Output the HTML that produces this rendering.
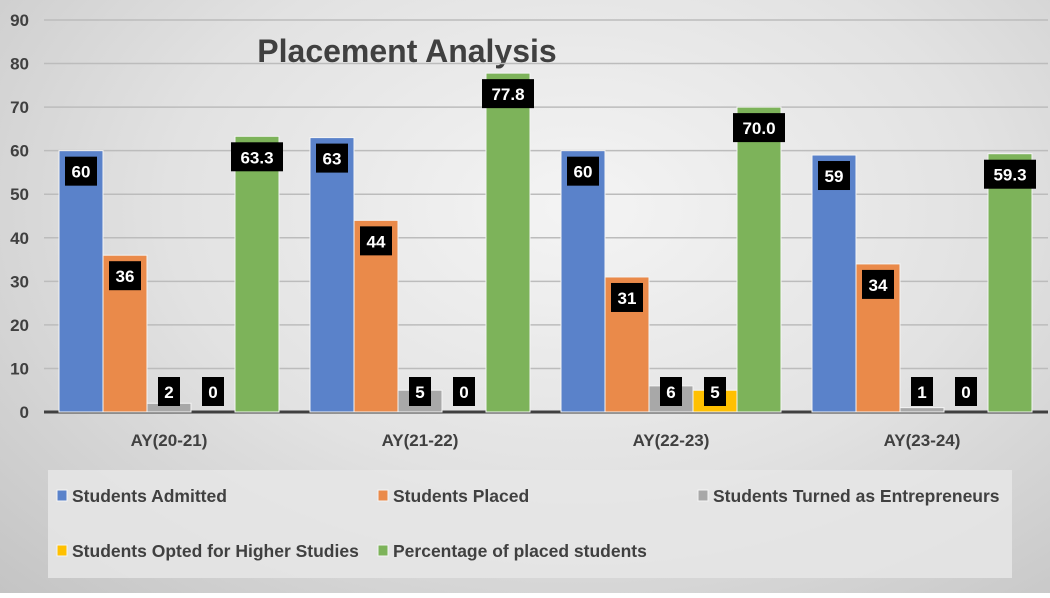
<!DOCTYPE html>
<html><head><meta charset="utf-8"><style>
body{margin:0;width:1050px;height:593px;overflow:hidden;font-family:"Liberation Sans",sans-serif;}
#wrap{position:relative;width:1050px;height:593px;background:radial-gradient(ellipse at 55% 35%,#f4f4f4 0%,#e2e2e2 50%,#c4c4c4 100%);}
</style></head><body>
<div id="wrap">
<svg id="chart" width="1050" height="593"></svg>
</div>
<script>
const categories=["AY(20-21)","AY(21-22)","AY(22-23)","AY(23-24)"];
const seriesNames=["Students Admitted","Students Placed","Students Turned as Entrepreneurs","Students Opted for Higher Studies","Percentage of placed students"];
const admitted=[60,63,60,59];
const placed=[36,44,31,34];
const entrepreneurs=[2,5,6,1];
const higherStudies=[0,0,5,0];
const percentage=[63.3,77.8,70.0,59.3];
const yTicks=[0,10,20,30,40,50,60,70,80,90];
const colors=["#5a82ca","#ea8a4a","#a8a8a8","#ffc000","#7db35a"];
const series=[admitted,placed,entrepreneurs,higherStudies,percentage];
const fmt=[v=>String(v),v=>String(v),v=>String(v),v=>String(v),v=>v.toFixed(1)];
const NS="http://www.w3.org/2000/svg";
const svg=document.getElementById('chart');
const x0=44,x1=1048,y0=412,yTop=20,yMax=90;
const groupW=(x1-x0)/categories.length,barW=44,barOff=15;
function y(v){return y0-(v/yMax)*(y0-yTop);}
function bx(g,i){return x0+g*groupW+barOff+i*barW;}
function mk(tag,attrs){const e=document.createElementNS(NS,tag);for(const k in attrs)e.setAttribute(k,attrs[k]);svg.appendChild(e);return e;}
let t=mk('text',{x:407,y:62,'text-anchor':'middle','font-size':32,'font-weight':'bold',fill:'#404040','font-family':'Liberation Sans'});
t.textContent="Placement Analysis";


yTicks.forEach(v=>{
 const l=mk('line',{x1:x0,x2:x1,y1:y(v),y2:y(v),stroke:v===0?'#404040':'#bcbcbc','stroke-width':v===0?3:1.5});
 
 
 const tx=mk('text',{x:29,y:y(v)+6,'text-anchor':'end','font-size':17,'font-weight':'bold',fill:'#404040'});
 tx.textContent=v;
 
 
});
series.forEach((arr,i)=>{
 arr.forEach((v,g)=>{
  const xx=bx(g,i);
  if(v>0){
   const r=mk('rect',{x:xx,y:y(v),width:barW,height:y0-y(v),fill:colors[i],stroke:'#f4f4f4','stroke-width':1});
   
   
  }
  const label=fmt[i](v);
  const w=label.length*10+12;
  const cy=Math.min(y(v)+21,392);
  const b=mk('rect',{x:xx+barW/2-w/2,y:cy-15,width:w,height:29,fill:'#000'});
  
  
  const lt=mk('text',{x:xx+barW/2,y:cy+6,'text-anchor':'middle','font-size':17,'font-weight':'bold',fill:'#fff'});
  lt.textContent=label;
  
  
 });
});
categories.forEach((c,g)=>{
 const ct=mk('text',{x:x0+g*groupW+barOff+barW*2.5,y:446,'text-anchor':'middle','font-size':17,'font-weight':'bold',fill:'#404040'});
 ct.textContent=c;
 
 
});
const lb=mk('rect',{x:48,y:470,width:964,height:108,fill:'#e6e6e6',opacity:0.85});


const lpos=[[57,496],[378,496],[698,496],[57,551],[378,551]];
seriesNames.forEach((n,i)=>{
 const [lx,ly]=lpos[i];
 const m=mk('rect',{x:lx,y:ly-6,width:10,height:11,fill:colors[i],stroke:'#f4f4f4'});
 
 
 const lt=mk('text',{x:lx+15,y:ly+6,'font-size':17.5,'font-weight':'bold',fill:'#404040'});
 lt.textContent=n;
 
 
});
</script>
</body></html>
